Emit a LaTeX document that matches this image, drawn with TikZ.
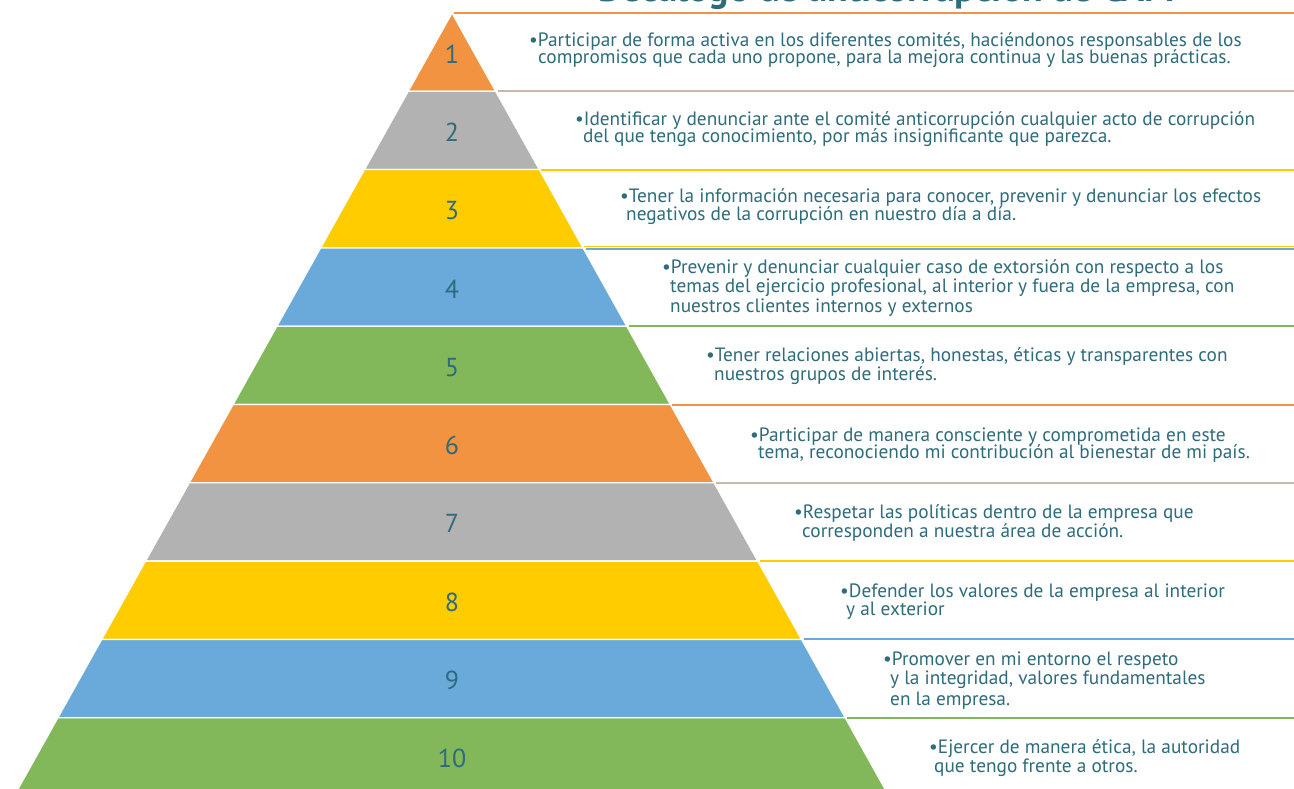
\documentclass[tikz,border=0pt]{standalone}
\usepackage{fontspec}
\setmainfont{PT Sans}
\definecolor{cOr}{HTML}{F29341}
\definecolor{cGr}{HTML}{B2B2B2}
\definecolor{cYe}{HTML}{FFCC00}
\definecolor{cBl}{HTML}{6AAADB}
\definecolor{cGn}{HTML}{82B85A}
\definecolor{cTeal}{HTML}{2E6B7B}
\definecolor{cTan}{HTML}{C9B7A8}
\tikzset{
  band/.style={draw=white, line width=1.3pt},
  numlbl/.style={text=cTeal, inner sep=0pt, font=\fontsize{26}{30}\selectfont},
  txt/.style={text=cTeal, inner sep=0pt, anchor=base west, font=\fontsize{19.3}{21}\selectfont},
  rule/.style={line width=2pt},
}
\begin{document}
\begin{tikzpicture}[x=1pt,y=-1pt]
\useasboundingbox (0,0) rectangle (1294,789);
\clip (0,0) rectangle (1294,789);
\fill[white] (0,0) rectangle (1294,789);
% title (cut off at top)
\node[anchor=base west, inner sep=0pt, text=cTeal, font=\bfseries\fontsize{38}{42}\selectfont] (title) at (598,1.5) {Decálogo de anticorrupción de CAM};
% pyramid bands
\foreach \i/\c in {1/cOr,2/cGr,3/cYe,4/cBl,5/cGn,6/cOr,7/cGr,8/cYe,9/cBl,10/cGn}{
  \pgfmathsetmacro{\t}{13+78.3*(\i-1)}
  \pgfmathsetmacro{\b}{\t+78.3}
  \fill[\c, band] ({452-0.5593*(\t-13)},\t) -- ({452+0.558*(\t-13)},\t) -- ({452+0.558*(\b-13)},\b) -- ({452-0.5593*(\b-13)},\b) -- cycle;
  \node[numlbl] (n\i) at (452,{\t+41}) {\i};
}
% right-hand rules
\foreach \i/\c in {1/cOr,2/cTan,3/cYe,5/cGn,6/cOr,7/cTan,8/cYe,9/cBl,10/cGn}{
  \pgfmathsetmacro{\t}{13+78.3*(\i-1)}
  \draw[\c, rule] ({452+0.558*(\t-13)+2},\t) -- (1294,\t);
}
\draw[cYe, line width=1.6pt] ({452+0.558*(246.3-13)+2},246.3) -- (1294,246.3);
\draw[cBl, line width=1.6pt] ({452+0.558*(248.9-13)+2},248.9) -- (1294,248.9);
% texts
\node[txt] (t1a) at (529,47) {•Participar de forma activa en los diferentes comités, haciéndonos responsables de los};
\node[txt] (t1b) at (538,64) {compromisos que cada uno propone, para la mejora continua y las buenas prácticas.};
\node[txt] (t2a) at (575,125.5) {•Identificar y denunciar ante el comité anticorrupción cualquier acto de corrupción};
\node[txt] (t2b) at (583,143) {del que tenga conocimiento, por más insignificante que parezca.};
\node[txt] (t3a) at (620,203) {•Tener la información necesaria para conocer, prevenir y denunciar los efectos};
\node[txt] (t3b) at (626,220) {negativos de la corrupción en nuestro día a día.};
\node[txt] (t4a) at (662,273) {•Prevenir y denunciar cualquier caso de extorsión con respecto a los};
\node[txt] (t4b) at (670,292) {temas del ejercicio profesional, al interior y fuera de la empresa, con};
\node[txt] (t4c) at (670,312) {nuestros clientes internos y externos};
\node[txt] (t5a) at (706,361) {•Tener relaciones abiertas, honestas, éticas y transparentes con};
\node[txt] (t5b) at (714,380) {nuestros grupos de interés.};
\node[txt] (t6a) at (750,441) {•Participar de manera consciente y comprometida en este};
\node[txt] (t6b) at (758,458) {tema, reconociendo mi contribución al bienestar de mi país.};
\node[txt] (t7a) at (794,518) {•Respetar las políticas dentro de la empresa que};
\node[txt] (t7b) at (802,537) {corresponden a nuestra área de acción.};
\node[txt] (t8a) at (840,597) {•Defender los valores de la empresa al interior};
\node[txt] (t8b) at (846,615) {y al exterior};
\node[txt] (t9a) at (883,665) {•Promover en mi entorno el respeto};
\node[txt] (t9b) at (890,684) {y la integridad, valores fundamentales};
\node[txt] (t9c) at (890,705) {en la empresa.};
\node[txt] (t10a) at (929,753) {•Ejercer de manera ética, la autoridad};
\node[txt] (t10b) at (934,772) {que tengo frente a otros.};
\end{tikzpicture}
\end{document}
